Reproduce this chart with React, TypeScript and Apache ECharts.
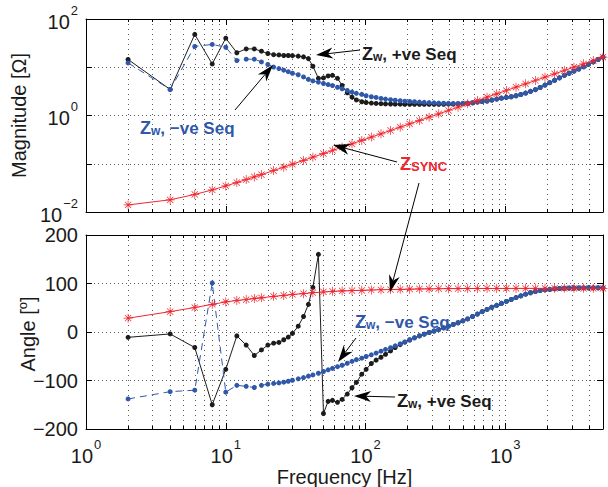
import React, { useEffect, useRef } from "react";
import * as echarts from "echarts";

// ---- data ----
const freqW = [2,4,6,8,10,12,14,16,18,20,22,24,26,28,30,33,36,39,42,46,50,54,58,63,68,74,80,86,94,101,110,119,129,139,151,163,177,191,207,224,243,263,285,309,334,362,392,424,459,497,538,583,631,683,740,801,868,939,1017,1102,1193,1292,1398,1514,1640,1775,1922,2081,2254,2441,2642,2861,3098,3355,3633,3934,4259,4612,4994];

const magPosSeq = [14.5,3.47,48,11.7,40,20,24,24,21.5,19.3,18.2,18,17.5,17.5,17.4,17,16.4,15.1,10.5,5.9,6.0,6.6,6.8,5.9,4.2,2.95,2.4,2.1,1.93,1.86,1.81,1.78,1.76,1.74,1.73,1.72,1.72,1.71,1.71,1.71,1.71,1.71,1.71,1.71,1.71,1.71,1.72,1.72,1.73,1.75,1.78,1.82,1.90,1.95,2.0,2.09,2.19,2.29,2.37,2.45,2.57,2.72,2.92,3.16,3.43,3.8,4.27,4.79,5.37,6.03,6.76,7.5,8.3,9.2,10.2,11.5,12.9,14.5,16.2];

const magNegSeq = [12.3,3.47,27,29.7,26,13.8,14.7,14.7,12.9,11.4,10.1,9.4,8.7,8.1,7.5,7.0,6.3,5.6,5.2,4.9,4.6,4.37,4.17,3.85,3.59,3.31,3.06,2.88,2.74,2.57,2.45,2.37,2.26,2.19,2.12,2.07,2.02,1.98,1.95,1.93,1.90,1.87,1.85,1.83,1.81,1.80,1.79,1.78,1.78,1.79,1.81,1.84,1.91,1.95,2.0,2.09,2.19,2.29,2.37,2.45,2.57,2.72,2.92,3.16,3.43,3.8,4.27,4.79,5.37,6.03,6.76,7.5,8.3,9.2,10.2,11.5,12.9,14.5,16.2];

const angPosSeq = [-11,-4,-32,-150,-77,-8,-27,-48.5,-37,-27,-23,-21.5,-16,-10.5,-3,12,32,57,92,160,-168,-143,-141,-145,-139,-128,-115,-104,-87,-77,-65,-58,-52,-46,-39,-32,-26,-21,-16.5,-12,-8,-4.5,-1,2,5,8.5,12,15.5,19,23,27,32,37,42,46.5,51,55,59,63,67,71,74.5,78,81,83.5,85.5,87,88,89,89.7,90.2,90.5,90.7,90.8,90.9,91,91,91,91];

const angNegSeq = [-138,-123,-120,101,-124,-110,-112,-114.5,-110,-107.5,-106,-105,-103.5,-101.5,-99.5,-96.5,-94,-91,-88.5,-85,-81.5,-78,-75,-71.5,-68.5,-64.5,-60.5,-57,-54,-50.5,-47,-43.5,-39.5,-36,-32.5,-28.5,-24.5,-20.5,-16,-12,-8,-4.5,-1,2,5,8.5,12,15.5,19,23,27,32,37,42,46.5,51,55,59,63,67,71,74.5,78,81,83.5,85.5,87,88,89,89.7,90.2,90.5,90.7,90.8,90.9,91,91,91,91];

const freqSync = [2,4,6,8,10,12,14,16,18,22,26,30,36,42,50,58,68,80,94,110,129,151,177,207,243,285,334,392,459,538,631,740,868,1017,1193,1398,1640,1922,2254,2642,3098,3633,4259,4994];

const magSync = [0.0140,0.0179,0.0231,0.0287,0.0347,0.0408,0.0470,0.0533,0.0596,0.0724,0.0851,0.0980,0.1173,0.1367,0.1625,0.1883,0.2207,0.2595,0.3046,0.3564,0.418,0.489,0.573,0.671,0.787,0.923,1.082,1.270,1.487,1.743,2.044,2.398,2.812,3.295,3.865,4.530,5.314,6.227,7.303,8.560,10.04,11.77,13.80,16.18];

const angSync = [28.5,42,50.5,57,62,65,67,69,70.5,73.5,75.5,77.5,79,81,82.5,83.8,84.6,85.3,86,86.6,87.1,87.6,88,88.4,88.7,89,89.2,89.4,89.5,89.6,89.7,89.8,89.8,89.9,89.9,90,90,90,90,90,90,90,90,90];

const freqTickExps = [0, 1, 2, 3];
const magTickExps = [-2, 0, 2];
const angTicks = [-200, -100, 0, 100, 200];

// ---- styling ----
const FONT = '"Liberation Sans", Arial, Helvetica, sans-serif';
const TXT = "#1a1a1a";
const BLACK = "#1c1c1c";
const BLUE = "#2f58aa";
const RED = "#f0252d";
const GRIDC = "#5a5a5a";

const ASTERISK =
  "path://M9.2,0h1.6v20h-1.6z M0,9.2h20v1.6h-20z M2.5,3.6L3.6,2.5L17.5,16.4L16.4,17.5z M16.4,2.5L17.5,3.6L3.6,17.5L2.5,16.4z";

const pairs = (xs: number[], ys: number[]) => xs.map((x, i) => [x, ys[i]]);

const supRich = {
  b: { fontSize: 20, fontFamily: FONT, color: TXT, lineHeight: 28, verticalAlign: "bottom" },
  s: { fontSize: 13, fontFamily: FONT, color: TXT, lineHeight: 12, verticalAlign: "top", padding: [0, 0, 0, 1] },
};

const minusStr = (n: number) => (n < 0 ? "\u2212" + -n : String(n));

const powFmt = (exps: number[]) => (v: number) => {
  const l = Math.log10(v);
  const e = Math.round(l);
  if (Math.abs(l - e) > 1e-6 || !exps.includes(e)) return "";
  return `{b|10}{s|${minusStr(e)}}`;
};

const dotted = (dash: number[]) => ({ show: true, lineStyle: { color: GRIDC, width: 1, type: dash } });

const xAxisBase = (gridIndex: number, bottom: boolean) => ({
  type: "log",
  logBase: 10,
  gridIndex,
  min: 1,
  max: 5000,
  position: bottom ? "bottom" : "top",
  axisLine: { show: true, onZero: false, lineStyle: { color: "#000", width: 1 } },
  axisTick: { show: true, inside: true, length: 6, lineStyle: { color: "#000" } },
  minorTick: { show: true, splitNumber: 9, length: 3, lineStyle: { color: "#000" } },
  splitLine: bottom ? dotted([1, 4]) : { show: false },
  minorSplitLine: bottom ? dotted([1, 4]) : { show: false },
  axisLabel: { show: false },
});

function arrow(x1: number, y1: number, x2: number, y2: number) {
  const dx = x2 - x1, dy = y2 - y1;
  const L = Math.hypot(dx, dy);
  const ux = dx / L, uy = dy / L;
  const px = -uy, py = ux;
  const hl = 17, hw = 5.5, notch = 12;
  const bx = x2 - ux * hl, by = y2 - uy * hl;
  const nx = x2 - ux * notch, ny = y2 - uy * notch;
  return [
    { type: "line", z: 100, shape: { x1, y1, x2: nx, y2: ny }, style: { stroke: "#000", lineWidth: 1 } },
    {
      type: "polygon",
      z: 100,
      shape: { points: [[x2, y2], [bx + px * hw, by + py * hw], [nx, ny], [bx - px * hw, by - py * hw]] },
      style: { fill: "#000" },
    },
  ];
}

function label(x: number, y: number, color: string, main: string, sub: string, rest: string, subSize: number) {
  const tok = (fontSize: number, lineHeight: number) => ({
    fontSize, fontWeight: "bold", fontFamily: FONT, fill: color, color, lineHeight, verticalAlign: "bottom",
  });
  return {
    type: "text",
    z: 100,
    x,
    y,
    style: {
      text: `{z|${main}}{w|${sub}}` + (rest ? `{t|${rest}}` : ""),
      fill: color,
      align: "left",
      verticalAlign: "top",
      rich: { z: tok(18, 28), w: tok(subSize, 6), t: tok(17, 28) },
    },
  };
}

export default function App() {
  const ref = useRef<HTMLDivElement>(null);
  useEffect(() => {
    if (!ref.current) return;
    const chart = echarts.init(ref.current, null, { renderer: "svg" });
    const angleTok = (fontSize: number, lineHeight: number, va: string) => ({
      fontSize, fontFamily: FONT, fill: TXT, color: TXT, lineHeight, verticalAlign: va,
    });
    const graphics: any[] = [
      ...arrow(360, 50, 316, 55),
      ...arrow(235, 110, 273, 65),
      ...arrow(397, 162, 333, 145),
      ...arrow(419, 183, 390, 292),
      ...arrow(356, 338, 338, 362),
      ...arrow(395, 397, 354, 396),
      label(362, 35, BLACK, "Z", "w", ", +ve Seq", 12),
      label(140, 108.5, BLUE, "Z", "w", ", \u2212ve Seq", 12),
      label(400, 145, RED, "Z", "SYNC", "", 13),
      label(355, 303, BLUE, "Z", "w", ", \u2212ve Seq", 12),
      label(397, 382, BLACK, "Z", "w", ", +ve Seq", 12),
      {
        type: "text",
        z: 100,
        x: 27,
        y: 334,
        rotation: Math.PI / 2,
        style: {
          text: "{a|Angle [}{s|o}{a|]}",
          fill: TXT,
          align: "center",
          verticalAlign: "middle",
          rich: { a: angleTok(20, 22, "bottom"), s: angleTok(13, 6, "top") },
        },
      },
    ];
    const option: any = {
      animation: false,
      backgroundColor: "#fff",
      grid: [
        { left: 86, top: 19, width: 517, height: 193, containLabel: false, outerBoundsMode: "none" },
        { left: 86, top: 235, width: 517, height: 194, containLabel: false, outerBoundsMode: "none" },
      ],
      xAxis: [
        xAxisBase(0, true),
        {
          ...xAxisBase(1, true),
          axisLabel: { show: true, margin: 9, formatter: powFmt(freqTickExps), rich: supRich },
          name: "Frequency [Hz]",
          nameLocation: "middle",
          nameGap: 31,
          nameTextStyle: { fontSize: 20, fontFamily: FONT, color: TXT, verticalAlign: "top" },
        },
        xAxisBase(0, false),
        xAxisBase(1, false),
      ],
      yAxis: [
        {
          type: "log",
          logBase: 10,
          gridIndex: 0,
          min: 0.01,
          max: 100,
          splitNumber: 2,
          axisLine: { show: true, onZero: false, lineStyle: { color: "#000" } },
          axisTick: { show: true, inside: true, length: 6, lineStyle: { color: "#000" } },
          splitLine: dotted([1, 3]),
          axisLabel: { margin: 8, formatter: powFmt(magTickExps), rich: supRich, padding: [0, 0, 3, 0] },
          name: "Magnitude [\u03A9]",
          nameLocation: "middle",
          nameGap: 52,
          nameTextStyle: { fontSize: 20, fontFamily: FONT, color: TXT },
        },
        {
          type: "value",
          gridIndex: 1,
          min: -200,
          max: 200,
          interval: 100,
          axisLine: { show: true, onZero: false, lineStyle: { color: "#000" } },
          axisTick: { show: true, inside: true, length: 6, lineStyle: { color: "#000" } },
          splitLine: dotted([1, 3]),
          axisLabel: {
            margin: 8,
            fontSize: 20,
            fontFamily: FONT,
            color: TXT,
            formatter: (v: number) => (angTicks.includes(v) ? minusStr(v) : ""),
          },
        },
        {
          type: "log",
          logBase: 10,
          gridIndex: 0,
          min: 0.01,
          max: 100,
          splitNumber: 2,
          position: "right",
          axisLine: { show: true, onZero: false, lineStyle: { color: "#000" } },
          axisTick: { show: true, inside: true, length: 6, lineStyle: { color: "#000" } },
          splitLine: { show: false },
          axisLabel: { show: false },
        },
        {
          type: "value",
          gridIndex: 1,
          min: -200,
          max: 200,
          interval: 100,
          position: "right",
          axisLine: { show: true, onZero: false, lineStyle: { color: "#000" } },
          axisTick: { show: true, inside: true, length: 6, lineStyle: { color: "#000" } },
          splitLine: { show: false },
          axisLabel: { show: false },
        },
      ],
      series: [
        {
          type: "line", xAxisIndex: 0, yAxisIndex: 0, data: pairs(freqW, magPosSeq),
          symbol: "circle", symbolSize: 5, lineStyle: { color: BLACK, width: 1 }, itemStyle: { color: BLACK }, z: 2,
        },
        {
          type: "line", xAxisIndex: 0, yAxisIndex: 0, data: pairs(freqW, magNegSeq),
          symbol: "circle", symbolSize: 5, lineStyle: { color: BLUE, width: 1, type: [7, 5] }, itemStyle: { color: BLUE }, z: 3,
        },
        {
          type: "line", xAxisIndex: 0, yAxisIndex: 0, data: pairs(freqSync, magSync),
          symbol: ASTERISK, symbolSize: 9, lineStyle: { color: RED, width: 1 }, itemStyle: { color: RED }, z: 4,
        },
        {
          type: "line", xAxisIndex: 1, yAxisIndex: 1, data: pairs(freqW, angPosSeq),
          symbol: "circle", symbolSize: 5, lineStyle: { color: BLACK, width: 1 }, itemStyle: { color: BLACK }, z: 2,
        },
        {
          type: "line", xAxisIndex: 1, yAxisIndex: 1, data: pairs(freqW, angNegSeq),
          symbol: "circle", symbolSize: 5, lineStyle: { color: BLUE, width: 1, type: [7, 5] }, itemStyle: { color: BLUE }, z: 3,
        },
        {
          type: "line", xAxisIndex: 1, yAxisIndex: 1, data: pairs(freqSync, angSync),
          symbol: ASTERISK, symbolSize: 9, lineStyle: { color: RED, width: 1 }, itemStyle: { color: RED }, z: 4,
        },
      ],
      graphic: graphics,
    };
    chart.setOption(option);
    return () => chart.dispose();
  }, []);
  return (
    <div
      ref={ref}
      style={{ position: "fixed", left: 0, top: 0, width: 608, height: 487, background: "#fff" }}
    />
  );
}
